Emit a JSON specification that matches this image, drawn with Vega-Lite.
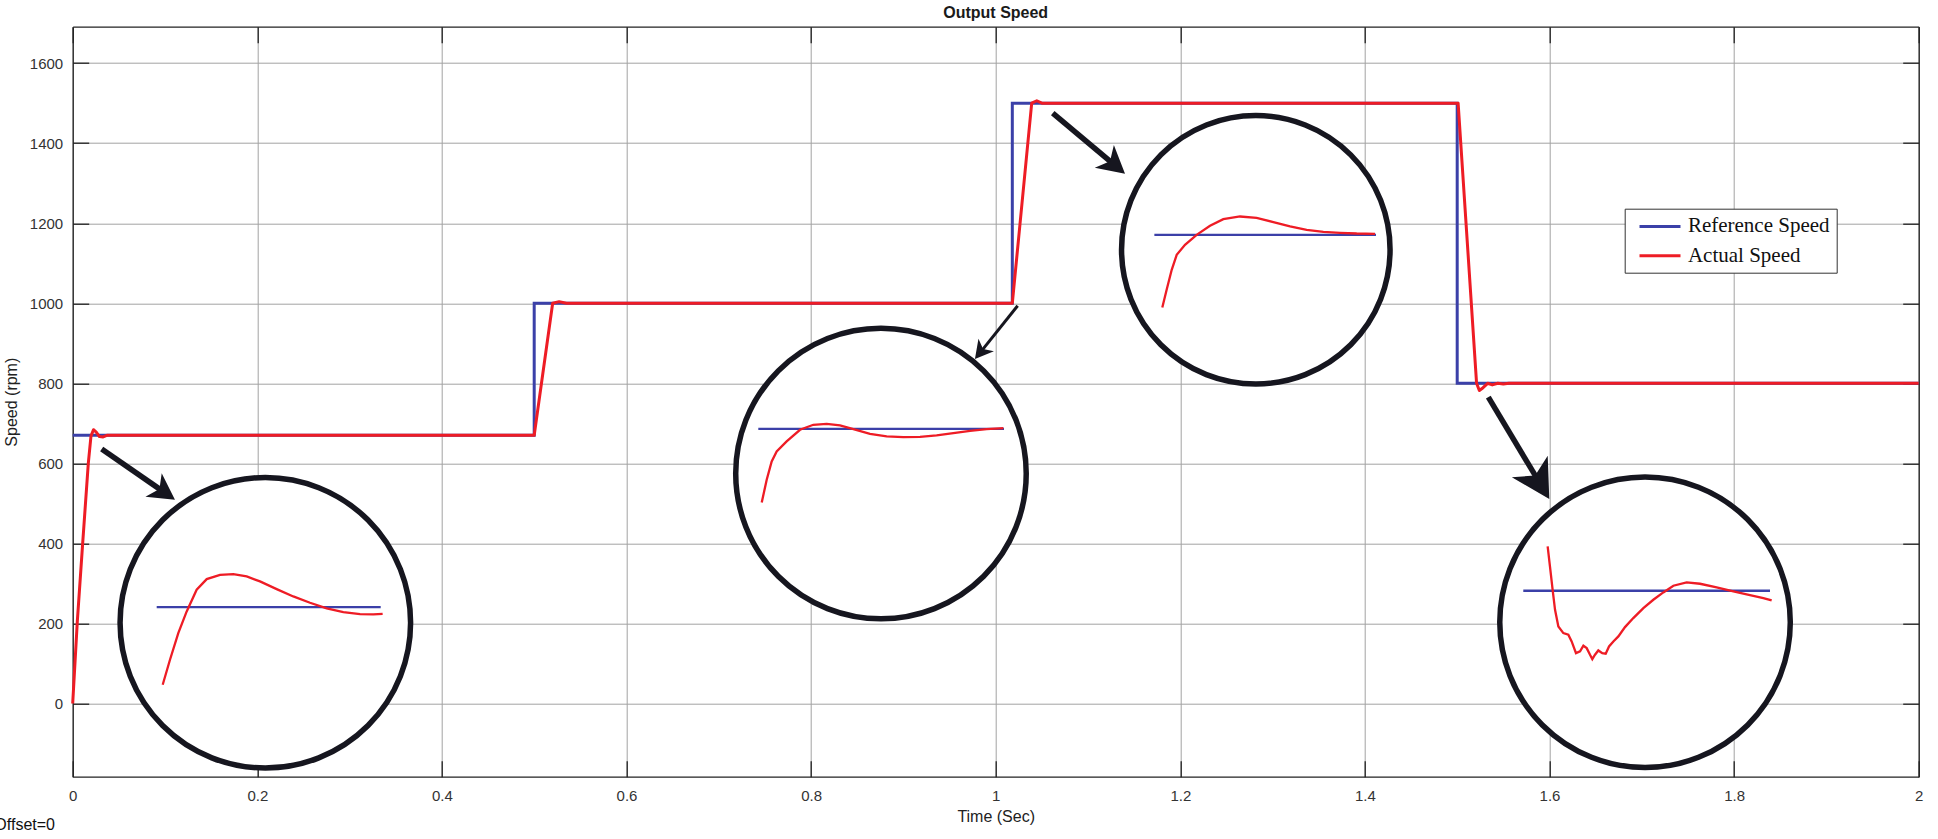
{
  "$schema": "https://vega.github.io/schema/vega-lite/v6.json",
  "autosize": {"type": "none"},
  "width": 1846,
  "height": 750,
  "padding": {"left": 72.7, "top": 26.7, "right": 19.3, "bottom": 62.3},
  "background": "white",
  "title": {"text": "Output Speed", "fontSize": 16, "font": "Liberation Sans", "fontWeight": "bold", "color": "#1a1a1a", "offset": 5, "anchor": "middle"},
  "config": {"view": {"stroke": null}},
  "datasets": {
    "main": [
      {"s": "Reference Speed", "t": 0, "v": 670, "i": 0},
      {"s": "Reference Speed", "t": 0.5, "v": 670, "i": 1},
      {"s": "Reference Speed", "t": 0.5, "v": 1000, "i": 2},
      {"s": "Reference Speed", "t": 1.018, "v": 1000, "i": 3},
      {"s": "Reference Speed", "t": 1.018, "v": 1500, "i": 4},
      {"s": "Reference Speed", "t": 1.5, "v": 1500, "i": 5},
      {"s": "Reference Speed", "t": 1.5, "v": 800, "i": 6},
      {"s": "Reference Speed", "t": 2, "v": 800, "i": 7},
      {"s": "Actual Speed", "t": 0, "v": 0, "i": 0},
      {"s": "Actual Speed", "t": 0.005, "v": 205, "i": 1},
      {"s": "Actual Speed", "t": 0.0108, "v": 400, "i": 2},
      {"s": "Actual Speed", "t": 0.0169, "v": 600, "i": 3},
      {"s": "Actual Speed", "t": 0.0198, "v": 668, "i": 4},
      {"s": "Actual Speed", "t": 0.0225, "v": 684, "i": 5},
      {"s": "Actual Speed", "t": 0.0255, "v": 678, "i": 6},
      {"s": "Actual Speed", "t": 0.029, "v": 667, "i": 7},
      {"s": "Actual Speed", "t": 0.033, "v": 666, "i": 8},
      {"s": "Actual Speed", "t": 0.037, "v": 670, "i": 9},
      {"s": "Actual Speed", "t": 0.5, "v": 670, "i": 10},
      {"s": "Actual Speed", "t": 0.52, "v": 1000, "i": 11},
      {"s": "Actual Speed", "t": 0.527, "v": 1004, "i": 12},
      {"s": "Actual Speed", "t": 0.535, "v": 1000, "i": 13},
      {"s": "Actual Speed", "t": 1.018, "v": 1000, "i": 14},
      {"s": "Actual Speed", "t": 1.039, "v": 1500, "i": 15},
      {"s": "Actual Speed", "t": 1.0445, "v": 1506, "i": 16},
      {"s": "Actual Speed", "t": 1.05, "v": 1500, "i": 17},
      {"s": "Actual Speed", "t": 1.501, "v": 1500, "i": 18},
      {"s": "Actual Speed", "t": 1.521, "v": 800, "i": 19},
      {"s": "Actual Speed", "t": 1.524, "v": 782, "i": 20},
      {"s": "Actual Speed", "t": 1.528, "v": 789, "i": 21},
      {"s": "Actual Speed", "t": 1.533, "v": 800, "i": 22},
      {"s": "Actual Speed", "t": 1.538, "v": 796, "i": 23},
      {"s": "Actual Speed", "t": 1.544, "v": 800, "i": 24},
      {"s": "Actual Speed", "t": 1.55, "v": 798, "i": 25},
      {"s": "Actual Speed", "t": 1.556, "v": 800, "i": 26},
      {"s": "Actual Speed", "t": 2, "v": 800, "i": 27}
    ],
    "inset": [
      {"k": 1, "s": "Reference Speed", "t": 0.0910, "v": 240.8, "i": 0},
      {"k": 1, "s": "Reference Speed", "t": 0.3337, "v": 240.8, "i": 1},
      {"k": 1, "s": "Actual Speed", "t": 0.0975, "v": 46.7, "i": 0},
      {"k": 1, "s": "Actual Speed", "t": 0.1054, "v": 109.2, "i": 1},
      {"k": 1, "s": "Actual Speed", "t": 0.1144, "v": 175.8, "i": 2},
      {"k": 1, "s": "Actual Speed", "t": 0.1235, "v": 229.9, "i": 3},
      {"k": 1, "s": "Actual Speed", "t": 0.1343, "v": 284.1, "i": 4},
      {"k": 1, "s": "Actual Speed", "t": 0.1452, "v": 310.7, "i": 5},
      {"k": 1, "s": "Actual Speed", "t": 0.1596, "v": 321.5, "i": 6},
      {"k": 1, "s": "Actual Speed", "t": 0.1740, "v": 323.2, "i": 7},
      {"k": 1, "s": "Actual Speed", "t": 0.1885, "v": 317.4, "i": 8},
      {"k": 1, "s": "Actual Speed", "t": 0.2029, "v": 304.9, "i": 9},
      {"k": 1, "s": "Actual Speed", "t": 0.2210, "v": 285.7, "i": 10},
      {"k": 1, "s": "Actual Speed", "t": 0.2390, "v": 267.4, "i": 11},
      {"k": 1, "s": "Actual Speed", "t": 0.2571, "v": 251.6, "i": 12},
      {"k": 1, "s": "Actual Speed", "t": 0.2752, "v": 237.4, "i": 13},
      {"k": 1, "s": "Actual Speed", "t": 0.2932, "v": 228.3, "i": 14},
      {"k": 1, "s": "Actual Speed", "t": 0.3113, "v": 223.3, "i": 15},
      {"k": 1, "s": "Actual Speed", "t": 0.3257, "v": 222.4, "i": 16},
      {"k": 1, "s": "Actual Speed", "t": 0.3358, "v": 224.1, "i": 17},
      {"k": 2, "s": "Reference Speed", "t": 0.7428, "v": 686.3, "i": 0},
      {"k": 2, "s": "Reference Speed", "t": 1.0090, "v": 686.3, "i": 1},
      {"k": 2, "s": "Actual Speed", "t": 0.7465, "v": 502.3, "i": 0},
      {"k": 2, "s": "Actual Speed", "t": 0.7519, "v": 558.9, "i": 1},
      {"k": 2, "s": "Actual Speed", "t": 0.7573, "v": 604.7, "i": 2},
      {"k": 2, "s": "Actual Speed", "t": 0.7627, "v": 629.7, "i": 3},
      {"k": 2, "s": "Actual Speed", "t": 0.7735, "v": 654.7, "i": 4},
      {"k": 2, "s": "Actual Speed", "t": 0.7880, "v": 683.8, "i": 5},
      {"k": 2, "s": "Actual Speed", "t": 0.8024, "v": 696.3, "i": 6},
      {"k": 2, "s": "Actual Speed", "t": 0.8169, "v": 698.8, "i": 7},
      {"k": 2, "s": "Actual Speed", "t": 0.8313, "v": 694.7, "i": 8},
      {"k": 2, "s": "Actual Speed", "t": 0.8458, "v": 685.5, "i": 9},
      {"k": 2, "s": "Actual Speed", "t": 0.8638, "v": 673.8, "i": 10},
      {"k": 2, "s": "Actual Speed", "t": 0.8819, "v": 667.2, "i": 11},
      {"k": 2, "s": "Actual Speed", "t": 0.8999, "v": 665.5, "i": 12},
      {"k": 2, "s": "Actual Speed", "t": 0.9180, "v": 666.3, "i": 13},
      {"k": 2, "s": "Actual Speed", "t": 0.9360, "v": 669.7, "i": 14},
      {"k": 2, "s": "Actual Speed", "t": 0.9541, "v": 675.5, "i": 15},
      {"k": 2, "s": "Actual Speed", "t": 0.9722, "v": 681.3, "i": 16},
      {"k": 2, "s": "Actual Speed", "t": 0.9902, "v": 685.5, "i": 17},
      {"k": 2, "s": "Actual Speed", "t": 1.0083, "v": 688.0, "i": 18},
      {"k": 3, "s": "Reference Speed", "t": 1.1719, "v": 1171.0, "i": 0},
      {"k": 3, "s": "Reference Speed", "t": 1.4120, "v": 1171.0, "i": 1},
      {"k": 3, "s": "Actual Speed", "t": 1.1805, "v": 989.5, "i": 0},
      {"k": 3, "s": "Actual Speed", "t": 1.1852, "v": 1033.6, "i": 1},
      {"k": 3, "s": "Actual Speed", "t": 1.1907, "v": 1083.6, "i": 2},
      {"k": 3, "s": "Actual Speed", "t": 1.1961, "v": 1121.0, "i": 3},
      {"k": 3, "s": "Actual Speed", "t": 1.2051, "v": 1146.0, "i": 4},
      {"k": 3, "s": "Actual Speed", "t": 1.2177, "v": 1171.0, "i": 5},
      {"k": 3, "s": "Actual Speed", "t": 1.2322, "v": 1193.5, "i": 6},
      {"k": 3, "s": "Actual Speed", "t": 1.2466, "v": 1210.2, "i": 7},
      {"k": 3, "s": "Actual Speed", "t": 1.2647, "v": 1216.8, "i": 8},
      {"k": 3, "s": "Actual Speed", "t": 1.2827, "v": 1213.5, "i": 9},
      {"k": 3, "s": "Actual Speed", "t": 1.3008, "v": 1202.7, "i": 10},
      {"k": 3, "s": "Actual Speed", "t": 1.3189, "v": 1191.8, "i": 11},
      {"k": 3, "s": "Actual Speed", "t": 1.3369, "v": 1183.5, "i": 12},
      {"k": 3, "s": "Actual Speed", "t": 1.3550, "v": 1178.5, "i": 13},
      {"k": 3, "s": "Actual Speed", "t": 1.3730, "v": 1176.0, "i": 14},
      {"k": 3, "s": "Actual Speed", "t": 1.3911, "v": 1174.3, "i": 15},
      {"k": 3, "s": "Actual Speed", "t": 1.4110, "v": 1173.5, "i": 16},
      {"k": 4, "s": "Reference Speed", "t": 1.5716, "v": 281.6, "i": 0},
      {"k": 4, "s": "Reference Speed", "t": 1.8389, "v": 281.6, "i": 1},
      {"k": 4, "s": "Actual Speed", "t": 1.5980, "v": 392.3, "i": 0},
      {"k": 4, "s": "Actual Speed", "t": 1.6005, "v": 342.4, "i": 1},
      {"k": 4, "s": "Actual Speed", "t": 1.6034, "v": 284.1, "i": 2},
      {"k": 4, "s": "Actual Speed", "t": 1.6060, "v": 234.1, "i": 3},
      {"k": 4, "s": "Actual Speed", "t": 1.6096, "v": 192.5, "i": 4},
      {"k": 4, "s": "Actual Speed", "t": 1.6150, "v": 175.8, "i": 5},
      {"k": 4, "s": "Actual Speed", "t": 1.6204, "v": 171.6, "i": 6},
      {"k": 4, "s": "Actual Speed", "t": 1.6240, "v": 155.0, "i": 7},
      {"k": 4, "s": "Actual Speed", "t": 1.6287, "v": 125.8, "i": 8},
      {"k": 4, "s": "Actual Speed", "t": 1.6331, "v": 130.0, "i": 9},
      {"k": 4, "s": "Actual Speed", "t": 1.6367, "v": 144.2, "i": 10},
      {"k": 4, "s": "Actual Speed", "t": 1.6403, "v": 138.3, "i": 11},
      {"k": 4, "s": "Actual Speed", "t": 1.6439, "v": 121.7, "i": 12},
      {"k": 4, "s": "Actual Speed", "t": 1.6464, "v": 110.9, "i": 13},
      {"k": 4, "s": "Actual Speed", "t": 1.6493, "v": 121.7, "i": 14},
      {"k": 4, "s": "Actual Speed", "t": 1.6529, "v": 132.5, "i": 15},
      {"k": 4, "s": "Actual Speed", "t": 1.6572, "v": 125.8, "i": 16},
      {"k": 4, "s": "Actual Speed", "t": 1.6609, "v": 124.2, "i": 17},
      {"k": 4, "s": "Actual Speed", "t": 1.6645, "v": 142.5, "i": 18},
      {"k": 4, "s": "Actual Speed", "t": 1.6692, "v": 155.0, "i": 19},
      {"k": 4, "s": "Actual Speed", "t": 1.6746, "v": 167.5, "i": 20},
      {"k": 4, "s": "Actual Speed", "t": 1.6818, "v": 190.8, "i": 21},
      {"k": 4, "s": "Actual Speed", "t": 1.6908, "v": 213.3, "i": 22},
      {"k": 4, "s": "Actual Speed", "t": 1.7017, "v": 238.3, "i": 23},
      {"k": 4, "s": "Actual Speed", "t": 1.7125, "v": 259.1, "i": 24},
      {"k": 4, "s": "Actual Speed", "t": 1.7233, "v": 277.4, "i": 25},
      {"k": 4, "s": "Actual Speed", "t": 1.7342, "v": 294.1, "i": 26},
      {"k": 4, "s": "Actual Speed", "t": 1.7486, "v": 302.4, "i": 27},
      {"k": 4, "s": "Actual Speed", "t": 1.7631, "v": 299.1, "i": 28},
      {"k": 4, "s": "Actual Speed", "t": 1.7811, "v": 289.9, "i": 29},
      {"k": 4, "s": "Actual Speed", "t": 1.7992, "v": 279.9, "i": 30},
      {"k": 4, "s": "Actual Speed", "t": 1.8172, "v": 270.8, "i": 31},
      {"k": 4, "s": "Actual Speed", "t": 1.8317, "v": 263.3, "i": 32},
      {"k": 4, "s": "Actual Speed", "t": 1.8407, "v": 257.4, "i": 33}
    ],
    "circles": [
      {"c": 1, "t": 0.2087, "v": 201.6},
      {"c": 2, "t": 0.8757, "v": 574.4},
      {"c": 3, "t": 1.2818, "v": 1133.6},
      {"c": 4, "t": 1.7035, "v": 202.9}
    ],
    "arrows": [
      {"a": 1, "t": 0.0314, "v": 635.6, "t2": 0.0970, "v2": 531.2, "ht": 0.0992, "hv": 527.4},
      {"a": 2, "t": 1.0238, "v": 993.6, "t2": 0.9849, "v2": 881.5, "ht": 0.9836, "hv": 878.0},
      {"a": 3, "t": 1.0618, "v": 1475.1, "t2": 1.1267, "v2": 1349.4, "ht": 1.1289, "hv": 1345.2},
      {"a": 4, "t": 1.5337, "v": 765.5, "t2": 1.5871, "v2": 559.7, "ht": 1.5892, "hv": 551.4}
    ],
    "note": [{"label": "Offset=0", "t": -0.0849, "v": -303}]
  },
  "layer": [
    {
      "data": {"name": "main"},
      "transform": [{"filter": "datum.s === 'Reference Speed'"}],
      "mark": {"type": "line", "strokeWidth": 3, "strokeJoin": "miter"},
      "encoding": {
        "x": {"field": "t", "type": "quantitative", "scale": {"domain": [0, 2], "nice": false, "zero": false},
          "axis": {"orient": "bottom", "values": [0, 0.2, 0.4, 0.6, 0.8, 1, 1.2, 1.4, 1.6, 1.8, 2], "format": "~g",
            "grid": true, "gridColor": "#a3a3a3", "gridWidth": 1, "gridOpacity": 1,
            "domain": true, "domainColor": "#222222", "domainWidth": 1.3,
            "ticks": true, "tickColor": "#222222", "tickWidth": 1.3, "tickSize": -16,
            "labelPadding": 28, "labelFlush": false, "labelFont": "Liberation Sans", "labelFontSize": 15, "labelColor": "#333333",
            "title": "Time (Sec)", "titlePadding": 5, "titleFont": "Liberation Sans", "titleFontSize": 16, "titleFontWeight": "normal", "titleColor": "#222222"}},
        "y": {"field": "v", "type": "quantitative", "scale": {"domain": [-183, 1691], "nice": false, "zero": false},
          "axis": {"orient": "left", "values": [0, 200, 400, 600, 800, 1000, 1200, 1400, 1600], "format": "d",
            "grid": true, "gridColor": "#a3a3a3", "gridWidth": 1, "gridOpacity": 1,
            "domain": true, "domainColor": "#222222", "domainWidth": 1.3,
            "ticks": true, "tickColor": "#222222", "tickWidth": 1.3, "tickSize": -16,
            "labelPadding": 26, "labelFont": "Liberation Sans", "labelFontSize": 15, "labelColor": "#333333",
            "title": "Speed (rpm)", "titlePadding": 10, "titleFont": "Liberation Sans", "titleFontSize": 16, "titleFontWeight": "normal", "titleColor": "#222222"}},
        "color": {"field": "s", "type": "nominal",
          "scale": {"domain": ["Reference Speed", "Actual Speed"], "range": ["#3b40a8", "#ee1c25"]},
          "legend": {"orient": "none", "legendX": 1552, "legendY": 182, "title": null,
            "symbolType": "M-0.29,0L3.81,0", "symbolSize": 400, "symbolStrokeWidth": 3,
            "labelFont": "Liberation Serif", "labelFontSize": 21, "labelColor": "#111111", "labelOffset": 34,
            "strokeColor": "#333333", "fillColor": "white", "padding": 6.2, "rowPadding": 7.3}},
        "order": {"field": "i", "type": "quantitative"}
      }
    },
    {
      "data": {"name": "main"},
      "transform": [{"filter": "datum.s === 'Actual Speed'"}],
      "mark": {"type": "line", "strokeWidth": 3, "strokeJoin": "round"},
      "encoding": {
        "x": {"field": "t", "type": "quantitative", "axis": null},
        "y": {"field": "v", "type": "quantitative", "axis": null},
        "color": {"field": "s", "type": "nominal"},
        "order": {"field": "i", "type": "quantitative"}
      }
    },
    {
      "data": {"name": "circles"},
      "transform": [{"filter": "datum.c !== 3"}],
      "mark": {"type": "point", "shape": "circle", "size": 84400, "fill": "white", "stroke": "#16161f", "strokeWidth": 5.5, "opacity": 1, "fillOpacity": 1},
      "encoding": {
        "x": {"field": "t", "type": "quantitative",
          "axis": {"orient": "top", "values": [0, 0.2, 0.4, 0.6, 0.8, 1, 1.2, 1.4, 1.6, 1.8, 2], "labels": false, "grid": false, "title": null,
            "domain": true, "domainColor": "#222222", "domainWidth": 1.3,
            "ticks": true, "tickColor": "#222222", "tickWidth": 1.3, "tickSize": -16}},
        "y": {"field": "v", "type": "quantitative",
          "axis": {"orient": "right", "values": [0, 200, 400, 600, 800, 1000, 1200, 1400, 1600], "labels": false, "grid": false, "title": null,
            "domain": true, "domainColor": "#222222", "domainWidth": 1.3,
            "ticks": true, "tickColor": "#222222", "tickWidth": 1.3, "tickSize": -16}}
      }
    },
    {
      "data": {"name": "circles"},
      "transform": [{"filter": "datum.c === 3"}],
      "mark": {"type": "point", "shape": "circle", "size": 72100, "fill": "white", "stroke": "#16161f", "strokeWidth": 5.5, "opacity": 1, "fillOpacity": 1},
      "encoding": {
        "x": {"field": "t", "type": "quantitative", "axis": null},
        "y": {"field": "v", "type": "quantitative", "axis": null}
      }
    },
    {
      "data": {"name": "inset"},
      "mark": {"type": "line", "strokeWidth": 2.3},
      "encoding": {
        "x": {"field": "t", "type": "quantitative", "axis": null},
        "y": {"field": "v", "type": "quantitative", "axis": null},
        "color": {"field": "s", "type": "nominal", "legend": null},
        "detail": {"field": "k", "type": "nominal"},
        "order": {"field": "i", "type": "quantitative"}
      }
    },
    {
      "data": {"name": "arrows"},
      "transform": [{"filter": "datum.a !== 2"}],
      "mark": {"type": "rule", "strokeWidth": 5.5, "color": "#16161f", "strokeCap": "butt"},
      "encoding": {
        "x": {"field": "t", "type": "quantitative", "axis": null},
        "y": {"field": "v", "type": "quantitative", "axis": null},
        "x2": {"field": "t2"},
        "y2": {"field": "v2"}
      }
    },
    {
      "data": {"name": "arrows"},
      "transform": [{"filter": "datum.a === 2"}],
      "mark": {"type": "rule", "strokeWidth": 3, "color": "#16161f", "strokeCap": "butt"},
      "encoding": {
        "x": {"field": "t", "type": "quantitative", "axis": null},
        "y": {"field": "v", "type": "quantitative", "axis": null},
        "x2": {"field": "t2"},
        "y2": {"field": "v2"}
      }
    },
    {
      "data": {"name": "arrows"},
      "transform": [{"filter": "datum.a === 1"}],
      "mark": {"type": "point", "shape": "M0,-1L1.1,1L0,0.45L-1.1,1Z", "size": 676, "angle": 124.7, "filled": true, "color": "#16161f", "opacity": 1},
      "encoding": {"x": {"field": "ht", "type": "quantitative", "axis": null}, "y": {"field": "hv", "type": "quantitative", "axis": null}}
    },
    {
      "data": {"name": "arrows"},
      "transform": [{"filter": "datum.a === 2"}],
      "mark": {"type": "point", "shape": "M0,-1L1.1,1L0,0.45L-1.1,1Z", "size": 324, "angle": 218.7, "filled": true, "color": "#16161f", "opacity": 1},
      "encoding": {"x": {"field": "ht", "type": "quantitative", "axis": null}, "y": {"field": "hv", "type": "quantitative", "axis": null}}
    },
    {
      "data": {"name": "arrows"},
      "transform": [{"filter": "datum.a === 3"}],
      "mark": {"type": "point", "shape": "M0,-1L1.1,1L0,0.45L-1.1,1Z", "size": 729, "angle": 130, "filled": true, "color": "#16161f", "opacity": 1},
      "encoding": {"x": {"field": "ht", "type": "quantitative", "axis": null}, "y": {"field": "hv", "type": "quantitative", "axis": null}}
    },
    {
      "data": {"name": "arrows"},
      "transform": [{"filter": "datum.a === 4"}],
      "mark": {"type": "point", "shape": "M0,-1L1.1,1L0,0.45L-1.1,1Z", "size": 1444, "angle": 149.1, "filled": true, "color": "#16161f", "opacity": 1},
      "encoding": {"x": {"field": "ht", "type": "quantitative", "axis": null}, "y": {"field": "hv", "type": "quantitative", "axis": null}}
    },
    {
      "data": {"name": "note"},
      "mark": {"type": "text", "align": "left", "baseline": "middle", "font": "Liberation Sans", "fontSize": 16, "color": "#111111", "clip": false},
      "encoding": {
        "x": {"field": "t", "type": "quantitative", "axis": null},
        "y": {"field": "v", "type": "quantitative", "axis": null},
        "text": {"field": "label"}
      }
    }
  ]
}
